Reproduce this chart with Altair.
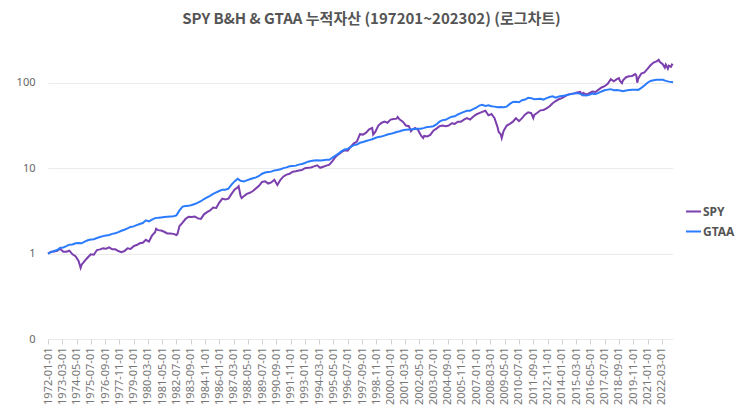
import altair as alt
import pandas as pd

title_text = "SPY B&H & GTAA 누적자산 (197201~202302) (로그차트)"
series_names = ["SPY", "GTAA"]
series_colors = ["#7b3fae", "#2b7bff"]

# Quarterly readings (Jan, Apr, Jul, Oct) per year, 1972..2022
years = list(range(1972, 2023))
quarter_months = [1, 4, 7, 10]

spy_quarterly = [
    [1.00, 1.05, 1.06, 1.08], [1.14, 1.05, 1.05, 1.08], [0.98, 0.93, 0.82, 0.74],
    [0.82, 0.90, 0.98, 0.97], [1.10, 1.12, 1.15, 1.14], [1.18, 1.12, 1.12, 1.07],
    [1.04, 1.07, 1.15, 1.13], [1.22, 1.26, 1.32, 1.34], [1.45, 1.38, 1.62, 1.78],
    [1.88, 1.86, 1.80, 1.72], [1.72, 1.70, 1.65, 2.10], [2.30, 2.55, 2.70, 2.68],
    [2.72, 2.58, 2.55, 2.88], [3.05, 3.20, 3.45, 3.42], [3.95, 4.40, 4.30, 4.40],
    [5.00, 5.60, 5.95, 4.70], [4.70, 5.00, 5.15, 5.40], [5.80, 6.20, 6.90, 7.00],
    [6.60, 6.80, 7.30, 6.35], [7.30, 8.00, 8.40, 8.60], [9.10, 9.20, 9.40, 9.50],
    [10.0, 10.1, 10.2, 10.5], [10.8, 10.1, 10.4, 10.7], [11.0, 12.1, 13.5, 14.5],
    [15.5, 16.2, 16.0, 17.8], [19.5, 20.5, 25.0, 24.7], [26.0, 28.5, 29.5, 26.5],
    [31.5, 33.8, 35.0, 34.0], [37.0, 37.5, 38.0, 37.0], [35.0, 31.5, 31.0, 28.0],
    [29.5, 28.0, 24.0, 23.8], [23.5, 24.5, 27.5, 29.0], [31.0, 31.5, 31.0, 31.5],
    [33.5, 33.0, 35.0, 35.0], [37.0, 38.5, 37.0, 40.0], [42.5, 44.0, 45.5, 47.0],
    [41.5, 43.0, 38.5, 30.0], [25.0, 27.5, 31.5, 33.0], [35.0, 38.5, 35.5, 38.5],
    [42.5, 45.0, 44.0, 42.0], [44.5, 47.5, 48.0, 50.0], [53.0, 57.5, 61.0, 64.0],
    [66.0, 69.0, 72.5, 74.0], [75.0, 77.0, 78.0, 76.0], [72.5, 75.5, 79.0, 78.0],
    [83.0, 88.0, 91.0, 97.0], [110.0, 104.0, 110.0, 105.0], [107.0, 116.0, 119.0, 120.0],
    [126.0, 112.0, 128.0, 132.0], [145.0, 160.0, 172.0, 178.0], [176.0, 165.0, 163.0, 158.0],
]
spy_extra_dates = [
    "1974-09-01", "1980-11-01", "1982-08-01", "1987-08-01", "1987-11-01",
    "1998-08-01", "2000-08-01", "2001-09-01", "2002-09-01", "2008-11-01",
    "2009-02-01", "2011-09-01", "2015-09-01", "2018-09-01", "2018-12-01",
    "2020-02-01", "2020-03-01", "2021-12-01", "2022-06-01", "2022-09-01",
    "2022-12-01", "2023-01-01", "2023-02-01",
]
spy_extra_values = [
    0.68, 1.95, 1.70, 6.15, 4.45,
    24.7, 39.7, 27.0, 22.5, 26.5,
    22.5, 38.5, 72.0, 113.0, 99.0,
    122.0, 100.0, 186.0, 150.0, 146.0,
    153.0, 163.0, 160.0,
]

gtaa_quarterly = [
    [1.00, 1.04, 1.07, 1.10], [1.17, 1.18, 1.22, 1.27], [1.28, 1.32, 1.33, 1.32],
    [1.38, 1.43, 1.46, 1.47], [1.52, 1.56, 1.60, 1.63], [1.65, 1.70, 1.73, 1.78],
    [1.85, 1.90, 1.97, 2.05], [2.08, 2.15, 2.22, 2.28], [2.45, 2.38, 2.50, 2.60],
    [2.62, 2.65, 2.68, 2.70], [2.72, 2.73, 2.80, 3.20], [3.55, 3.60, 3.62, 3.70],
    [3.80, 3.95, 4.10, 4.35], [4.55, 4.75, 5.00, 5.20], [5.40, 5.60, 5.60, 5.75],
    [6.40, 7.00, 7.50, 7.10], [7.00, 7.20, 7.40, 7.60], [7.80, 8.10, 8.60, 8.90],
    [9.00, 9.10, 9.40, 9.50], [9.70, 10.0, 10.2, 10.5], [10.6, 10.7, 11.0, 11.2],
    [11.5, 11.9, 12.1, 12.3], [12.4, 12.3, 12.4, 12.5], [12.5, 13.3, 14.0, 14.8],
    [15.8, 16.5, 16.8, 17.8], [18.6, 18.9, 19.8, 20.2], [20.8, 21.3, 21.8, 22.5],
    [23.2, 23.5, 24.0, 24.8], [25.2, 25.8, 26.5, 27.0], [27.8, 28.2, 28.4, 28.6],
    [28.8, 28.9, 29.0, 29.6], [30.3, 30.6, 31.0, 32.5], [35.0, 36.5, 36.8, 38.5],
    [40.0, 40.5, 42.5, 44.0], [45.5, 47.0, 47.0, 49.0], [51.0, 54.0, 55.0, 53.5],
    [54.5, 53.0, 52.5, 51.5], [52.0, 51.5, 52.5, 56.5], [59.5, 60.0, 59.0, 62.5],
    [63.5, 66.5, 66.0, 64.0], [64.5, 65.0, 63.5, 66.0], [68.0, 69.5, 67.0, 69.0],
    [70.0, 71.0, 72.5, 73.5], [75.0, 75.5, 74.0, 71.5], [71.0, 72.0, 74.5, 74.0],
    [76.0, 79.0, 81.5, 83.0], [84.0, 81.5, 82.0, 81.0], [79.5, 81.0, 82.0, 82.5],
    [83.0, 82.5, 87.0, 93.0], [100.0, 105.0, 107.0, 108.0], [108.5, 108.0, 105.0, 103.0],
]
gtaa_extra_dates = ["2023-01-01", "2023-02-01"]
gtaa_extra_values = [102.0, 101.0]

# x-axis tick labels (every 14 months)
tick_labels = [
    "1972-01-01", "1973-03-01", "1974-05-01", "1975-07-01", "1976-09-01", "1977-11-01",
    "1979-01-01", "1980-03-01", "1981-05-01", "1982-07-01", "1983-09-01", "1984-11-01",
    "1986-01-01", "1987-03-01", "1988-05-01", "1989-07-01", "1990-09-01", "1991-11-01",
    "1993-01-01", "1994-03-01", "1995-05-01", "1996-07-01", "1997-09-01", "1998-11-01",
    "2000-01-01", "2001-03-01", "2002-05-01", "2003-07-01", "2004-09-01", "2005-11-01",
    "2007-01-01", "2008-03-01", "2009-05-01", "2010-07-01", "2011-09-01", "2012-11-01",
    "2014-01-01", "2015-03-01", "2016-05-01", "2017-07-01", "2018-09-01", "2019-11-01",
    "2021-01-01", "2022-03-01",
]
y_ticks = [0.1, 1, 10, 100]


def build(name, quarterly, extra_dates, extra_values):
    rows = []
    for yr, vals in zip(years, quarterly):
        for m, v in zip(quarter_months, vals):
            rows.append((f"{yr}-{m:02d}-01", v))
    rows += list(zip(extra_dates, extra_values))
    df = pd.DataFrame(rows, columns=["date", "value"])
    df["series"] = name
    return df.sort_values("date")


data = pd.concat([
    build("SPY", spy_quarterly, spy_extra_dates, spy_extra_values),
    build("GTAA", gtaa_quarterly, gtaa_extra_dates, gtaa_extra_values),
], ignore_index=True)
data["order"] = data["date"]

tick_ms = [int(pd.Timestamp(t).value // 10**6) for t in tick_labels]
dom_ms = [int(pd.Timestamp("1972-01-01").value // 10**6), int(pd.Timestamp("2023-02-01").value // 10**6)]

chart = alt.Chart(data).mark_line(strokeWidth=2).encode(
    x=alt.X("date:T", scale=alt.Scale(type="utc", domain=dom_ms, nice=False),
            axis=alt.Axis(values=tick_ms, format="%Y-%m-%d", labelAngle=-90, title=None,
                          grid=False, domain=False, ticks=True, tickColor="#d0d0d0", tickSize=5,
                          labelFont="Noto Sans", labelFontSize=11, labelColor="#777777",
                          labelPadding=3, labelOverlap=False, labelBound=False, labelFlush=False)),
    y=alt.Y("value:Q", scale=alt.Scale(type="log", domain=[0.1, 200], nice=False),
            axis=alt.Axis(values=y_ticks, title=None, domain=False, ticks=False,
                          labelExpr="datum.value < 0.5 ? '0' : format(datum.value, 'd')",
                          labelFont="Noto Sans", labelFontSize=11, labelColor="#666666",
                          labelPadding=13, gridColor="#ebebeb", gridWidth=1)),
    color=alt.Color("series:N", scale=alt.Scale(domain=series_names, range=series_colors),
                    legend=alt.Legend(title=None, orient="none", legendX=637, legendY=146,
                                      symbolType="stroke", symbolStrokeWidth=2, symbolSize=225,
                                      labelFont="Noto Sans", labelFontSize=12, labelFontWeight="bold",
                                      labelColor="#555555", rowPadding=5, labelOffset=1)),
    order="order:T",
).properties(
    width=625,
    height=282,
    background="white",
    title=alt.Title(title_text, anchor="middle", frame="group", dx=11, offset=29,
                    font="Noto Sans CJK KR", fontSize=15, fontWeight="bold", color="#555555"),
    padding={"left": 48, "top": 57, "right": 70, "bottom": 73},
    autosize=alt.AutoSizeParams(type="none"),
).configure_view(strokeWidth=0, stroke="transparent")

chart.save("out.html", embed_options={"renderer": "svg", "actions": False})
